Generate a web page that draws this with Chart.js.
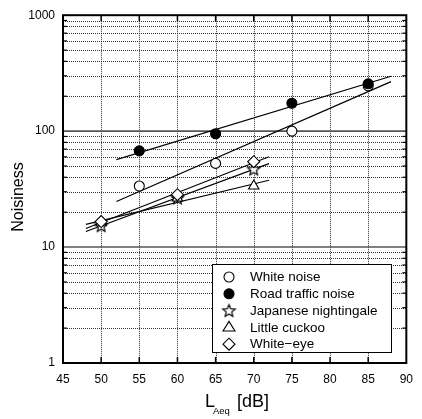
<!DOCTYPE html>
<html>
<head>
<meta charset="utf-8">
<script src="https://cdn.jsdelivr.net/npm/chart.js@4/dist/chart.umd.min.js"></script>
<style>
html,body{margin:0;padding:0;background:#fff;}
#wrap{width:422px;height:419px;position:relative;}
</style>
</head>
<body>
<div id="wrap"><canvas id="c" width="422" height="419"></canvas></div>
<script>
// ---- data ----
const xTickValues = [45, 50, 55, 60, 65, 70, 75, 80, 85, 90];
const yTickLabels = [1, 10, 100, 1000];
const noiseLevels = [55, 65, 75, 85];
const whiteNoise = [33.6, 52.7, 100, 246];
const roadTraffic = [67.6, 95, 174, 256];
const birdLevels = [50, 60, 70];
const nightingale = [15.3, 26.5, 47.1];
const cuckoo = [16.2, 26.5, 33.6];
const whiteEye = [16.6, 28.3, 54.5];
const noiseFitRange = [52, 88];
const birdFitRange = [48, 72];
const seriesNames = ['White noise', 'Road traffic noise', 'Japanese nightingale', 'Little cuckoo', 'White\u2212eye'];

const FONT = '"Liberation Sans", Arial, sans-serif';

function pts(xs, ys) { return xs.map((x, i) => ({x: x, y: ys[i]})); }
function fit(xs, ys, range) {
  const n = xs.length;
  const ly = ys.map(v => Math.log10(v));
  const mx = xs.reduce((a, b) => a + b, 0) / n;
  const my = ly.reduce((a, b) => a + b, 0) / n;
  let sxy = 0, sxx = 0;
  for (let i = 0; i < n; i++) { sxy += (xs[i] - mx) * (ly[i] - my); sxx += (xs[i] - mx) ** 2; }
  const b = sxy / sxx;
  return range.map(x => ({x: x, y: Math.pow(10, my + b * (x - mx))}));
}

// star point style
function makeStar(r) {
  const s = Math.ceil(r * 2 + 4);
  const cv = document.createElement('canvas');
  cv.width = s; cv.height = s;
  const g = cv.getContext('2d');
  const cx = s / 2, cy = s / 2 + 0.5;
  g.beginPath();
  for (let i = 0; i < 10; i++) {
    const rr = i % 2 === 0 ? r : r * 0.45;
    const a = -Math.PI / 2 + i * Math.PI / 5;
    const px = cx + rr * Math.cos(a), py = cy + rr * Math.sin(a);
    if (i === 0) g.moveTo(px, py); else g.lineTo(px, py);
  }
  g.closePath();
  g.fillStyle = '#fff'; g.fill();
  g.lineWidth = 1.2; g.strokeStyle = '#000'; g.stroke();
  return cv;
}
const starImg = makeStar(6.5);

const lineDs = (data) => ({
  type: 'scatter', data: data, showLine: true, pointRadius: 0, borderColor: '#000',
  borderWidth: 1.2, order: 20, fill: false
});
const ptDs = (label, data, style, bg, radius, order) => ({
  label: label, data: data, showLine: false, pointStyle: style, pointRadius: radius,
  pointBackgroundColor: bg, pointBorderColor: '#000', pointBorderWidth: 1.1, order: order
});

const frame = {
  id: 'frame',
  beforeDatasetsDraw(chart) {
    const {ctx, chartArea: a, scales: {x, y}} = chart;
    ctx.save();
    // vertical dotted grid
    ctx.lineWidth = 1; ctx.strokeStyle = '#333'; ctx.setLineDash([1, 1]);
    xTickValues.slice(1, -1).forEach(v => {
      const px = Math.round(x.getPixelForValue(v)) + 0.5;
      ctx.beginPath(); ctx.moveTo(px, a.top); ctx.lineTo(px, a.bottom); ctx.stroke();
    });
    // horizontal minor dotted
    for (let d = 1; d < 1000; d *= 10) {
      for (let m = 2; m <= 9; m++) {
        const py = Math.round(y.getPixelForValue(m * d)) + 0.5;
        ctx.beginPath(); ctx.moveTo(a.left, py); ctx.lineTo(a.right, py); ctx.stroke();
      }
    }
    ctx.setLineDash([]);
    // decade lines
    ctx.strokeStyle = '#555'; ctx.lineWidth = 1.6;
    yTickLabels.slice(1, -1).forEach(v => {
      const py = y.getPixelForValue(v);
      ctx.beginPath(); ctx.moveTo(a.left, py); ctx.lineTo(a.right, py); ctx.stroke();
    });
    // ticks
    ctx.strokeStyle = '#000'; ctx.lineWidth = 1.5;
    xTickValues.slice(1, -1).forEach(v => {
      const px = x.getPixelForValue(v);
      ctx.beginPath(); ctx.moveTo(px, a.top); ctx.lineTo(px, a.top + 6); ctx.stroke();
      ctx.beginPath(); ctx.moveTo(px, a.bottom); ctx.lineTo(px, a.bottom - 6); ctx.stroke();
    });
    ctx.lineWidth = 1.2;
    for (let d = 1; d < 1000; d *= 10) {
      for (let m = 2; m <= 9; m++) {
        const py = y.getPixelForValue(m * d);
        ctx.beginPath(); ctx.moveTo(a.left, py); ctx.lineTo(a.left + 4, py); ctx.stroke();
        ctx.beginPath(); ctx.moveTo(a.right, py); ctx.lineTo(a.right - 4, py); ctx.stroke();
      }
    }
    ctx.restore();
  },
  afterDraw(chart) {
    const {ctx, chartArea: a} = chart;
    ctx.save();
    // plot border
    ctx.strokeStyle = '#000'; ctx.lineWidth = 2;
    ctx.strokeRect(a.left, a.top, a.right - a.left, a.bottom - a.top);
    // legend
    const lx = 212, ly = 264, lw = 179, lh = 88;
    ctx.fillStyle = '#fff'; ctx.fillRect(lx, ly, lw, lh);
    ctx.lineWidth = 1; ctx.strokeStyle = '#000';
    ctx.strokeRect(lx + 0.5, ly + 0.5, lw, lh);
    const ds = chart.data.datasets.filter(d => d.label);
    ds.forEach((d, i) => {
      const cy = 277 + i * 16.8, cx = 229;
      ctx.fillStyle = d.pointBackgroundColor; ctx.strokeStyle = '#000'; ctx.lineWidth = 1.1;
      const r = d.pointRadius;
      ctx.beginPath();
      if (d.pointStyle === 'circle') {
        ctx.arc(cx, cy, r, 0, Math.PI * 2); ctx.fill(); ctx.stroke();
      } else if (d.pointStyle === 'triangle') {
        ctx.moveTo(cx, cy - r); ctx.lineTo(cx + r * 0.866 * 1.15, cy + r * 0.6);
        ctx.lineTo(cx - r * 0.866 * 1.15, cy + r * 0.6); ctx.closePath(); ctx.fill(); ctx.stroke();
      } else if (d.pointStyle === 'rectRot') {
        ctx.moveTo(cx, cy - r); ctx.lineTo(cx + r, cy); ctx.lineTo(cx, cy + r); ctx.lineTo(cx - r, cy);
        ctx.closePath(); ctx.fill(); ctx.stroke();
      } else {
        ctx.drawImage(d.pointStyle, cx - d.pointStyle.width / 2, cy - d.pointStyle.height / 2);
      }
      ctx.fillStyle = '#000'; ctx.font = '13.5px ' + FONT;
      ctx.textAlign = 'left'; ctx.textBaseline = 'middle';
      ctx.fillText(d.label, 250, cy + 0.5);
    });
    // x title with subscript
    ctx.fillStyle = '#000'; ctx.textBaseline = 'alphabetic'; ctx.textAlign = 'left';
    ctx.font = '18px ' + FONT;
    ctx.fillText('L', 205, 407);
    ctx.font = '9.5px ' + FONT;
    ctx.fillText('Aeq', 213, 414);
    ctx.font = '18px ' + FONT;
    ctx.fillText('[dB]', 237, 407);
    // y title
    ctx.translate(19, 197); ctx.rotate(-Math.PI / 2);
    ctx.textAlign = 'center'; ctx.textBaseline = 'middle';
    ctx.font = '16px ' + FONT;
    ctx.fillText('Noisiness', 0, 0);
    ctx.restore();
  }
};

new Chart(document.getElementById('c'), {
  type: 'scatter',
  data: {
    datasets: [
      ptDs(seriesNames[0], pts(noiseLevels, whiteNoise), 'circle', '#fff', 5, 5),
      ptDs(seriesNames[1], pts(noiseLevels, roadTraffic), 'circle', '#000', 5, 1),
      ptDs(seriesNames[2], pts(birdLevels, nightingale), starImg, '#fff', 6, 4),
      ptDs(seriesNames[3], pts(birdLevels, cuckoo), 'triangle', '#fff', 6, 3),
      ptDs(seriesNames[4], pts(birdLevels, whiteEye), 'rectRot', '#fff', 6, 2),
      lineDs(fit(noiseLevels, whiteNoise, noiseFitRange)),
      lineDs(fit(noiseLevels, roadTraffic, noiseFitRange)),
      lineDs(fit(birdLevels, nightingale, birdFitRange)),
      lineDs(fit(birdLevels, cuckoo, birdFitRange)),
      lineDs(fit(birdLevels, whiteEye, birdFitRange))
    ]
  },
  options: {
    responsive: false,
    animation: false,
    layout: {padding: {top: 11, right: 8, left: 0, bottom: 0}},
    plugins: {legend: {display: false}, tooltip: {enabled: false}},
    scales: {
      x: {
        type: 'linear', min: 45, max: 90,
        afterBuildTicks: s => { s.ticks = xTickValues.map(v => ({value: v})); },
        ticks: {font: {family: FONT, size: 12}, color: '#000', padding: 9, maxRotation: 0,
                callback: v => String(v)},
        grid: {display: false, drawTicks: false},
        border: {display: false},
        afterFit: s => { s.height = 56; }
      },
      y: {
        type: 'logarithmic', min: 1, max: 1000,
        afterBuildTicks: s => { s.ticks = yTickLabels.map(v => ({value: v})); },
        ticks: {font: {family: FONT, size: 12}, color: '#000', padding: 8,
                callback: v => String(v)},
        grid: {display: false, drawTicks: false},
        border: {display: false},
        afterFit: s => { s.width = 63; }
      }
    }
  },
  plugins: [frame]
});
</script>
</body>
</html>
